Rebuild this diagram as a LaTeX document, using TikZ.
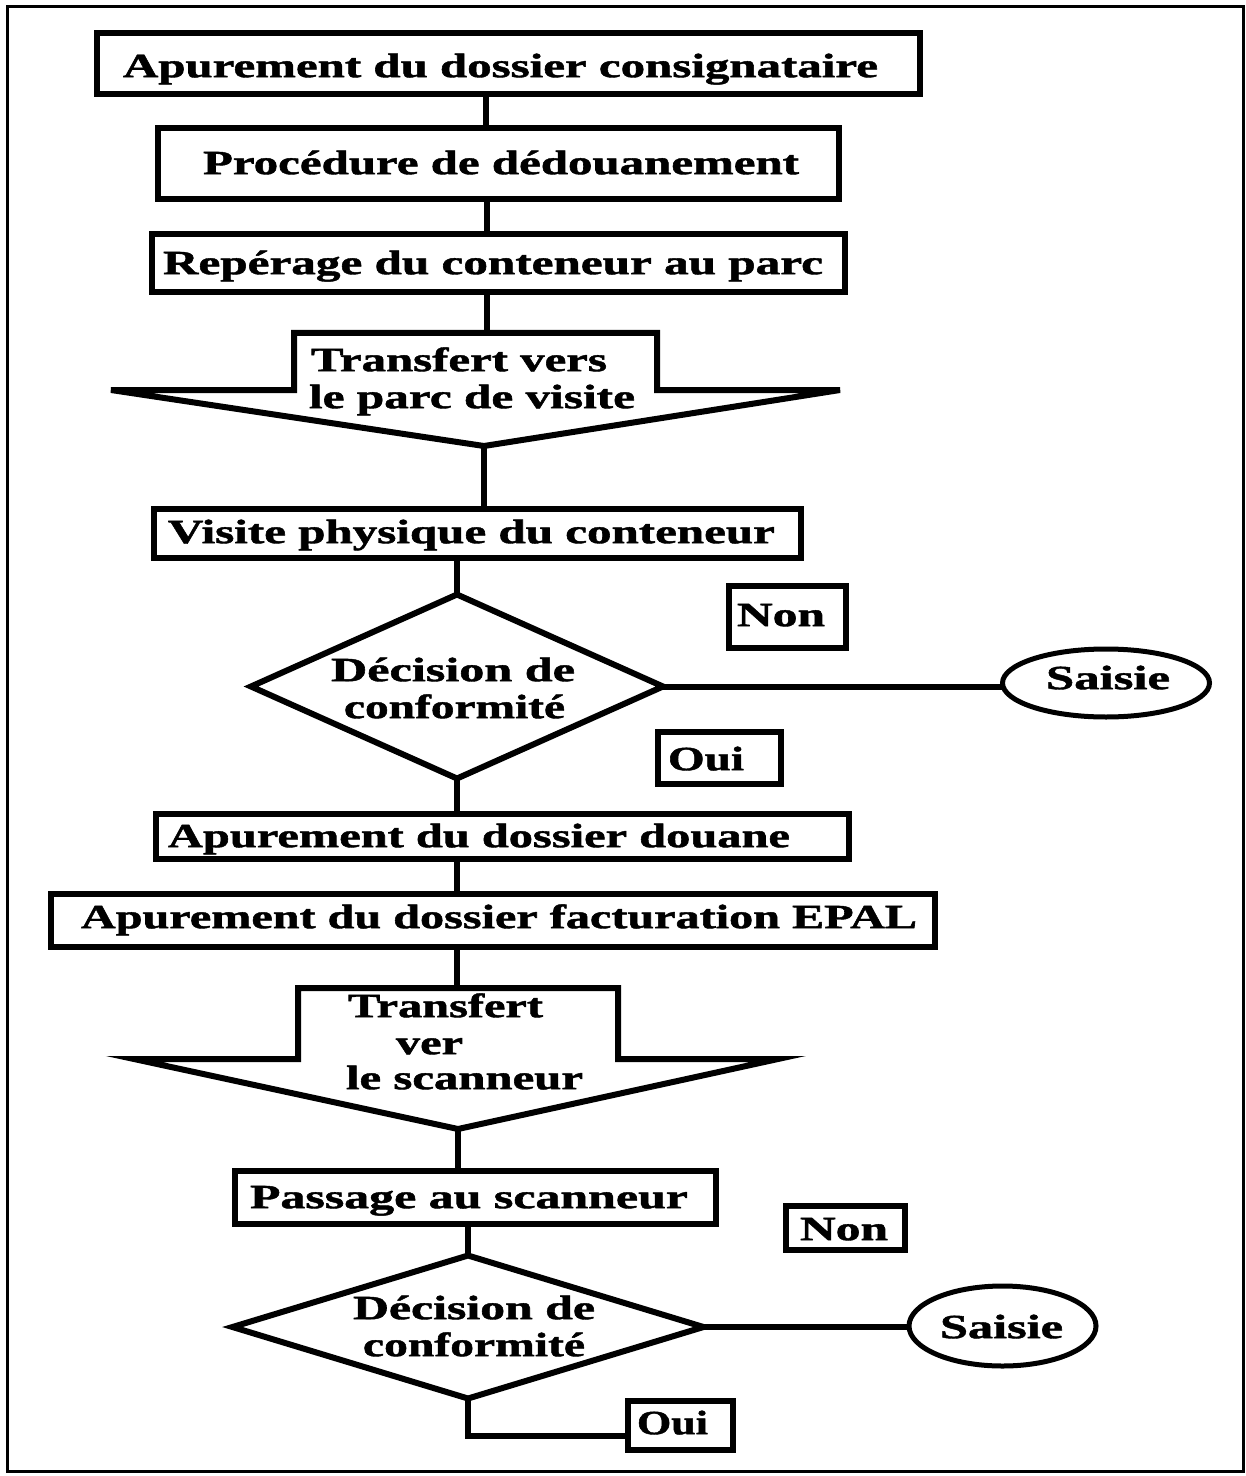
\documentclass[tikz,border=0pt]{standalone}
\usepackage{fontspec}
\setmainfont{Liberation Serif}[BoldFeatures={FakeBold=1.2}]
\usepackage{graphicx}
\usetikzlibrary{shapes.geometric}
\newdimen\pxu \pxu=0.5pt
\newcommand{\hs}[2]{\resizebox{#1\pxu}{\height}{#2}}
\begin{document}
\begin{tikzpicture}[x=0.5pt,y=-0.5pt,
  every node/.style={inner sep=0pt, outer sep=0pt},
  bx/.style n args={2}{draw, rectangle, line width=3pt, minimum width=#1*0.5pt, minimum height=#2*0.5pt},
  ell/.style n args={2}{draw, ellipse, line width=2.5pt, minimum width=#1*0.5pt, minimum height=#2*0.5pt},
  dia/.style n args={2}{draw, diamond, line width=3pt, minimum width=#1*0.5pt, minimum height=#2*0.5pt},
  conn/.style={line width=3pt},
  arrowshape/.style={draw, line width=3pt, line join=miter},
  t/.style={font=\fontsize{17pt}{20pt}\selectfont\bfseries, text height=11.2pt, text depth=0pt, inner sep=0pt}]
\useasboundingbox (0,0) rectangle (1246,1476);
\draw[line width=1.5pt] (7,7) rectangle (1243,1471);

% boxes
\node[bx={823}{61}] (b1) at (508,64) {};
\node[bx={681}{71}] (b2) at (498,164) {};
\node[bx={693}{58}] (b3) at (498,263.5) {};
\node[bx={647}{49}] (b5) at (477,533) {};
\node[bx={693}{45}] (b10) at (502.5,836.5) {};
\node[bx={884}{53}] (b11) at (493,920) {};
\node[bx={481}{53}] (b13) at (475,1197) {};
\node[bx={117}{62}] (non1) at (787,616.5) {};
\node[bx={123}{52}] (oui1) at (719,757.5) {};
\node[bx={119}{44}] (non2) at (845,1227.5) {};
\node[bx={105}{49}] (oui2) at (680,1425) {};

% ellipses
\node[ell={207}{68}] (e1) at (1106,683) {};
\node[ell={187}{80}] (e2) at (1002.5,1326) {};

% diamonds
\node[dia={412}{184}] (d1) at (457,686.5) {};
\node[dia={471}{143}] (d2) at (468,1327) {};

% block arrows
\coordinate (a1top) at (487,333);
\coordinate (a1tip) at (484,446);
\draw[arrowshape] (294,333) -- (657,333) -- (657,390) -- (840,390) -- (a1tip) -- (111,390) -- (294,390) -- cycle;
\coordinate (a2top) at (457,988);
\coordinate (a2tip) at (458,1129);
\draw[arrowshape] (298,988) -- (618,988) -- (618,1059) -- (778,1059) -- (a2tip) -- (134,1059) -- (298,1059) -- cycle;

% connector x positions
\coordinate (xa) at (486,0);
\coordinate (xb) at (487,0);

\draw[conn] (b1.south -| xa) -- (b2.north -| xa);
\draw[conn] (b2.south -| xb) -- (b3.north -| xb);
\draw[conn] (b3.south -| xb) -- (a1top);
\draw[conn] (a1tip) -- (b5.north -| a1tip);
\draw[conn] (b5.south -| d1.north) -- (d1.north);
\draw[conn] (d1.south) -- (b10.north -| d1.south);
\draw[conn] (b10.south -| d1.south) -- (b11.north -| d1.south);
\draw[conn] (b11.south -| a2top) -- (a2top);
\draw[conn] (a2tip) -- (b13.north -| a2tip);
\draw[conn] (b13.south -| d2.north) -- (d2.north);
\draw[conn] (d1.east) -- (d1.east -| e1.west);
\draw[conn] (d2.east) -- (d2.east -| e2.west);
\draw[conn] (d2.south) |- ([yshift=-5.5pt]oui2.west);

% texts
\node[t] (t1) at (500.5,66) {\hs{755}{Apurement du dossier consignataire}};
\node[t] (t2) at (501,163) {\hs{596}{Procédure de dédouanement}};
\node[t] (t3) at (493,263) {\hs{660}{Repérage du conteneur au parc}};
\node[t] (t4a) at (459,360) {\hs{296}{Transfert vers}};
\node[t] (t4b) at (472,397) {\hs{326}{le parc de visite}};
\node[t] (t5) at (471.5,532) {\hs{607}{Visite physique du conteneur}};
\node[t] (t6a) at (453,670) {\hs{244}{Décision de}};
\node[t] (t6b) at (454.5,707) {\hs{221}{conformité}};
\node[t] (t7) at (781,615) {\hs{88}{Non}};
\node[t] (t8) at (1108,678) {\hs{124}{Saisie}};
\node[t] (t9) at (706,759) {\hs{76}{Oui}};
\node[t] (t10) at (479,836) {\hs{622}{Apurement du dossier douane}};
\node[t] (t11) at (499,917) {\hs{836}{Apurement du dossier facturation EPAL}};
\node[t] (t12a) at (445.5,1006) {\hs{195}{Transfert}};
\node[t] (t12b) at (429.5,1043) {\hs{67}{ver}};
\node[t] (t12c) at (464.5,1078) {\hs{237}{le scanneur}};
\node[t] (t13) at (469,1197) {\hs{438}{Passage au scanneur}};
\node[t] (t14a) at (474,1308) {\hs{242}{Décision de}};
\node[t] (t14b) at (474,1345) {\hs{222}{conformité}};
\node[t] (t15) at (844,1229) {\hs{88}{Non}};
\node[t] (t16) at (1001.5,1327) {\hs{123}{Saisie}};
\node[t] (t17) at (672.5,1423) {\hs{71}{Oui}};
\end{tikzpicture}
\end{document}
